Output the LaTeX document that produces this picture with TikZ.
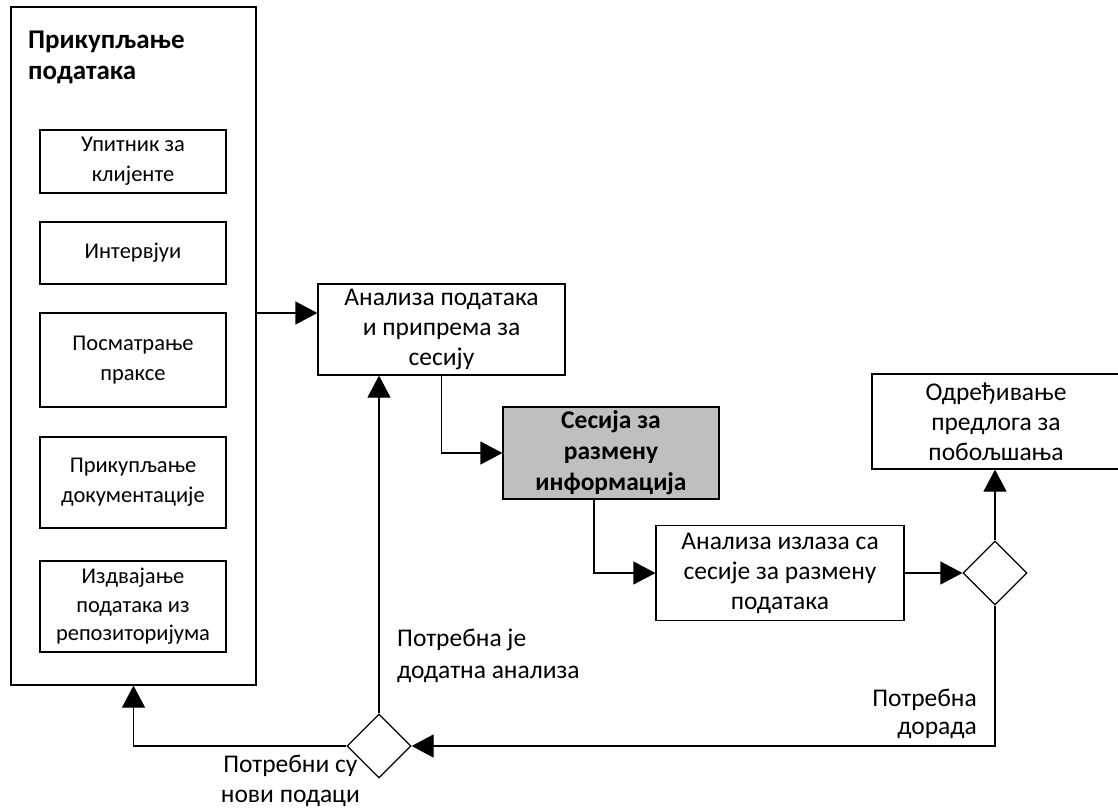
\documentclass[tikz,border=0pt]{standalone}
\usepackage{fontspec}
\setmainfont{Carlito}
\usetikzlibrary{arrows.meta,shapes.geometric}
\tikzset{
  box/.style={draw, line width=1.2pt, align=center, inner sep=2pt, font=\fontsize{25.5}{30}\selectfont},
  ibox/.style={box, font=\fontsize{22.5}{30}\selectfont},
  gbox/.style={box, fill=black!25, font=\fontsize{25.5}{31}\selectfont\bfseries},
  dec/.style={draw, line width=1.2pt, diamond, minimum width=64pt, minimum height=64pt, inner sep=0pt},
  conn/.style={line width=1.2pt},
  arr/.style={conn, -{Triangle[length=22pt,width=23pt]}},
  lbl/.style={inner sep=0pt, font=\fontsize{25.5}{31}\selectfont}
}
\begin{document}
\begin{tikzpicture}[x=1pt,y=-1pt]
\useasboundingbox (0,0) rectangle (1118,809);
% outer container
\node[box, minimum width=245pt, minimum height=678pt] (outer) at (133.5,346) {};
\node[lbl, anchor=west, align=left, font=\fontsize{27}{31}\selectfont\bfseries] (title) at (28,57.5) {Прикупљање\\података};
\node[ibox, minimum width=186pt, minimum height=63pt] (b1) at (133,161.5) {Упитник за\\клијенте};
\node[ibox, minimum width=186pt, minimum height=62pt] (b2) at (133,253) {Интервјуи};
\node[ibox, minimum width=186pt, minimum height=94pt] (b3) at (133,360) {Посматрање\\праксе};
\node[ibox, minimum width=186pt, minimum height=91pt] (b4) at (133,482.5) {Прикупљање\\документације};
\node[ibox, minimum width=186pt, minimum height=91pt, font=\fontsize{22.5}{28.5}\selectfont] (b5) at (133,606.5) {Издвајање\\података из\\репозиторијума};
% main flow
\node[box, minimum width=247pt, minimum height=91pt] (A) at (441.5,329.5) {Анализа података\\и припрема за\\сесију};
\node[gbox, minimum width=216pt, minimum height=92pt] (S) at (611,453) {Сесија за\\размену\\информација};
\node[box, minimum width=248pt, minimum height=95pt] (B) at (780,573) {Анализа излаза са\\сесије за размену\\података};
\node[box, minimum width=248pt, minimum height=95pt] (C) at (996,421.5) {Одређивање\\предлога за\\побољшања};
\node[dec] (D2) at (995,573) {};
\node[dec] (D1) at (379,746) {};
% labels
\node[lbl, anchor=west, align=left, font=\fontsize{25.5}{32}\selectfont] (l1) at (397,656) {Потребна је\\додатна анализа};
\node[lbl, anchor=east, align=center, font=\fontsize{25.5}{30}\selectfont] (l2) at (360,781) {Потребни су\\нови подаци};
\node[lbl, anchor=east, align=right, font=\fontsize{25.5}{28}\selectfont] (l3) at (977,714) {Потребна\\дорада};
% connectors
\coordinate (ya) at (0,313);
\draw[arr] (outer.east |- ya) -- (A.west |- ya);
\draw[arr] (A.south) |- (S.west);
\draw[arr] ([xshift=-17pt]S.south) |- (B.west);
\draw[arr] (B.east) -- (D2.west);
\draw[arr] (D2.north) -- (D2.north |- C.south);
\draw[arr] (D2.south) |- (D1.east);
\draw[arr] (D1.north) -- (D1.north |- A.south);
\draw[arr] (D1.west) -| (outer.south);
\end{tikzpicture}
\end{document}
